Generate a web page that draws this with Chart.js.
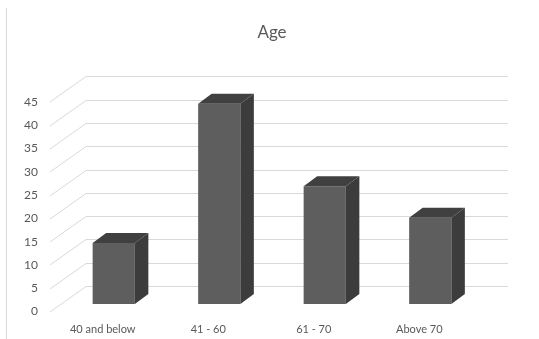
<!DOCTYPE html>
<html>
<head>
<meta charset="utf-8">
<script src="https://cdn.jsdelivr.net/npm/chart.js@4/dist/chart.umd.min.js"></script>
<style>
  html, body { margin: 0; padding: 0; background: #fff; }
  #wrap { position: relative; width: 539px; height: 339px; }
  #wrap::before { content: ""; position: absolute; left: 6px; top: 8px; bottom: 0; border-left: 1px solid #d9d9d9; }
</style>
</head>
<body>
<div id="wrap"><canvas id="ageChart" width="539" height="339"></canvas></div>
<script>
const categories = ["40 and below", "41 - 60", "61 - 70", "Above 70"];
const ageValues = [13.1, 43, 25.3, 18.5];
const tickValues = [0, 5, 10, 15, 20, 25, 30, 35, 40, 45];

// 3D offsets relative to the bar front plane
const FLOOR_DX = -11, FLOOR_DY = 7.5;  // front edge of floor (axis labels)
const WALL_DX = 25, WALL_DY = -18;     // back wall
const DEPTH_DX = 13.5, DEPTH_DY = -10; // bar depth

const threeD = {
  id: 'threeD',
  beforeDatasetsDraw(chart) {
    const { ctx, chartArea, scales } = chart;
    const y = scales.y;
    ctx.save();
    ctx.strokeStyle = '#d9d9d9';
    ctx.lineWidth = 1;
    tickValues.forEach(v => {
      const py = Math.round(y.getPixelForValue(v)) + 0.5;
      ctx.beginPath();
      ctx.moveTo(chartArea.left + FLOOR_DX, py + FLOOR_DY);
      ctx.lineTo(chartArea.left + WALL_DX, py + WALL_DY);
      ctx.lineTo(chartArea.right + WALL_DX, py + WALL_DY);
      ctx.stroke();
    });
    ctx.restore();
  },
  afterDatasetsDraw(chart) {
    const { ctx } = chart;
    ctx.save();
    chart.getDatasetMeta(0).data.forEach(bar => {
      const l = bar.x - bar.width / 2, r = bar.x + bar.width / 2;
      const top = bar.y, base = bar.base;
      // side
      ctx.fillStyle = '#3c3c3c';
      ctx.beginPath();
      ctx.moveTo(r, top);
      ctx.lineTo(r + DEPTH_DX, top + DEPTH_DY);
      ctx.lineTo(r + DEPTH_DX, base + DEPTH_DY);
      ctx.lineTo(r, base);
      ctx.closePath();
      ctx.fill();
      // top
      ctx.fillStyle = '#404040';
      ctx.beginPath();
      ctx.moveTo(l, top);
      ctx.lineTo(l + DEPTH_DX, top + DEPTH_DY);
      ctx.lineTo(r + DEPTH_DX, top + DEPTH_DY);
      ctx.lineTo(r, top);
      ctx.closePath();
      ctx.fill();
    });
    ctx.restore();
  }
};

new Chart(document.getElementById('ageChart'), {
  type: 'bar',
  data: {
    labels: categories,
    datasets: [{
      label: 'Age',
      data: ageValues,
      backgroundColor: '#5e5e5e',
      borderWidth: 0,
      barPercentage: 0.8,
      categoryPercentage: 0.5
    }]
  },
  options: {
    responsive: false,
    animation: false,
    layout: { padding: { left: 0, right: 56, top: 0, bottom: 0 } },
    plugins: {
      legend: { display: false },
      tooltip: { enabled: false },
      title: {
        display: true,
        text: 'Age',
        fullSize: false,
        color: '#595959',
        font: { family: 'Lato', size: 17, weight: 'normal' },
        padding: { top: 22, bottom: 52 }
      }
    },
    scales: {
      x: {
        grid: { display: false, drawTicks: false },
        border: { display: false },
        ticks: {
          color: '#595959',
          font: { family: 'Lato', size: 11 },
          padding: 19,
          labelOffset: FLOOR_DX,
          maxRotation: 0
        },
        afterFit(scale) { scale.height = 35; }
      },
      y: {
        min: 0,
        max: 45,
        grid: { display: false, drawTicks: false },
        border: { display: false },
        ticks: {
          stepSize: 5,
          color: '#595959',
          font: { family: 'Lato', size: 12 },
          padding: 23,
          labelOffset: FLOOR_DY
        },
        afterFit(scale) { scale.width = 61; }
      }
    }
  },
  plugins: [threeD]
});
</script>
</body>
</html>
